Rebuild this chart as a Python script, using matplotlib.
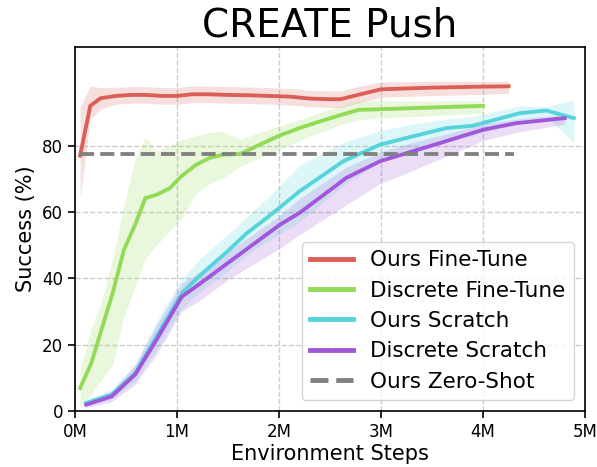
import matplotlib
matplotlib.use("Agg")
import matplotlib.pyplot as plt
import seaborn as sns

# Environment steps in millions and success rates (%) with shaded spread
ours_ft_x = [0.05, 0.15, 0.25, 0.4, 0.55, 0.7, 0.85, 1.0, 1.15, 1.3, 1.5, 1.7, 1.9, 2.1, 2.3, 2.5, 2.6, 2.8, 3.0, 3.5, 4.0, 4.25]
ours_ft = [77, 92, 94.3, 95, 95.3, 95.3, 95, 95, 95.5, 95.5, 95.3, 95.2, 95, 94.8, 94.2, 94, 94, 95.5, 97, 97.5, 97.8, 97.9]
ours_ft_lo = [64, 88, 91, 92.5, 92.8, 92.8, 92.5, 92.5, 93, 93, 92.8, 92.7, 92.5, 92.3, 91.7, 91.5, 91.5, 93, 94.6, 95.1, 95.5, 95.8]
ours_ft_hi = [91.5, 98, 97.5, 97.6, 97.8, 97.8, 97.5, 97.5, 98, 98, 97.8, 97.7, 97.5, 97.3, 96.7, 96.5, 96.5, 98, 99.2, 99.4, 99.4, 99.4]

disc_ft_x = [0.05, 0.16, 0.25, 0.37, 0.48, 0.59, 0.69, 0.8, 0.93, 1.04, 1.19, 1.32, 1.45, 1.62, 1.81, 2.0, 2.2, 2.4, 2.6, 2.78, 3.0, 3.5, 4.0]
disc_ft = [6.9, 14.4, 23.5, 35.6, 48.6, 56.2, 64.2, 65.2, 67.2, 70.7, 74.3, 76.3, 77.3, 77.5, 80.3, 83, 85.3, 87.3, 89.2, 90.8, 91, 91.5, 92]
disc_ft_lo = [1.3, 5, 9, 14, 28.5, 37.6, 46, 50, 54.5, 58, 65.7, 68.5, 70.2, 73.7, 76.5, 78.8, 81.5, 84, 86.3, 87.8, 88.3, 89, 89.8]
disc_ft_hi = [12.4, 25, 32, 46, 62, 76, 82.5, 78.3, 80, 81.8, 83, 84, 84.3, 81.8, 84, 86, 87.8, 90, 92, 93.5, 93.5, 93.5, 93.5]

ours_sc_x = [0.11, 0.36, 0.59, 0.8, 1.05, 1.23, 1.49, 1.68, 1.88, 2.2, 2.63, 2.99, 3.31, 3.64, 3.9, 4.36, 4.62, 4.89]
ours_sc = [2.4, 4.9, 11.4, 22.5, 35.6, 41, 48, 53.5, 58.2, 66.2, 75.3, 80.3, 82.8, 85.3, 86, 89.8, 90.6, 88.3]
ours_sc_lo = [1.5, 3.5, 9, 18.5, 31, 36, 42, 47, 51, 57, 68, 75, 78.5, 81.5, 83, 87.5, 88.8, 80.8]
ours_sc_hi = [3.5, 6.5, 14, 27, 40, 46, 53, 58.5, 64, 74, 81, 84.5, 86.5, 88, 88.8, 92, 91.8, 93.8]

disc_sc_x = [0.11, 0.36, 0.59, 0.8, 1.045, 1.23, 1.52, 2.01, 2.2, 2.66, 2.99, 3.31, 3.58, 4.0, 4.33, 4.8]
disc_sc = [1.9, 4.4, 11, 21.5, 34.4, 38.5, 45.1, 56.2, 59.7, 70.3, 75.3, 78.3, 80.8, 84.8, 86.8, 88.3]
disc_sc_lo = [1, 2.8, 8, 17, 30, 33.5, 40, 49.1, 53.1, 62.2, 68.5, 72.5, 76, 81.5, 84, 86.5]
disc_sc_hi = [3, 6, 14, 26, 38.5, 42, 48.5, 59, 64, 73.5, 78, 81, 83, 86.5, 88, 89.5]

zero_shot_x = [0.05, 4.3]
zero_shot = 77.5

labels = ["Ours Fine-Tune", "Discrete Fine-Tune", "Ours Scratch", "Discrete Scratch", "Ours Zero-Shot"]
xticks = [0, 1, 2, 3, 4, 5]
xtick_labels = ["0M", "1M", "2M", "3M", "4M", "5M"]
yticks = [0, 20, 40, 60, 80]

colors = sns.color_palette("hls", 4)
plt.rcParams["font.family"] = ["DejaVu Sans"]

fig = plt.figure(figsize=(5.97, 4.67), dpi=100)
ax = fig.add_axes([0.1256, 0.12, 0.8544, 0.779])

series = [
    (ours_ft_x, ours_ft, ours_ft_lo, ours_ft_hi),
    (disc_ft_x, disc_ft, disc_ft_lo, disc_ft_hi),
    (ours_sc_x, ours_sc, ours_sc_lo, ours_sc_hi),
    (disc_sc_x, disc_sc, disc_sc_lo, disc_sc_hi),
]
for (x, y, lo, hi), c, lab in zip(series, colors, labels):
    ax.fill_between(x, lo, hi, color=c, alpha=0.2, linewidth=0)
    ax.plot(x, y, color=c, linewidth=2.75, label=lab)

ax.plot(zero_shot_x, [zero_shot, zero_shot], color="gray", linestyle="--",
        linewidth=2.75, label=labels[4])

ax.set_xlim(0, 5)
ax.set_ylim(0, 109.7)
ax.set_xticks(xticks)
ax.set_xticklabels(xtick_labels)
ax.set_yticks(yticks)
ax.tick_params(labelsize=12, length=5, width=1.2)
ax.grid(True, linestyle="--", color="#cccccc", linewidth=1)
ax.set_axisbelow(True)
for s in ax.spines.values():
    s.set_linewidth(1.2)

ax.set_xlabel("Environment Steps", fontsize=15, labelpad=2)
ax.set_ylabel("Success (%)", fontsize=15, labelpad=4)
ax.set_title("CREATE Push", fontsize=28, pad=8)

leg = ax.legend(loc="lower right", fontsize=15.5, framealpha=0.8,
                labelspacing=0.48)
for line in leg.get_lines():
    line.set_linewidth(3.5)

fig.savefig("out.png", dpi=100)
